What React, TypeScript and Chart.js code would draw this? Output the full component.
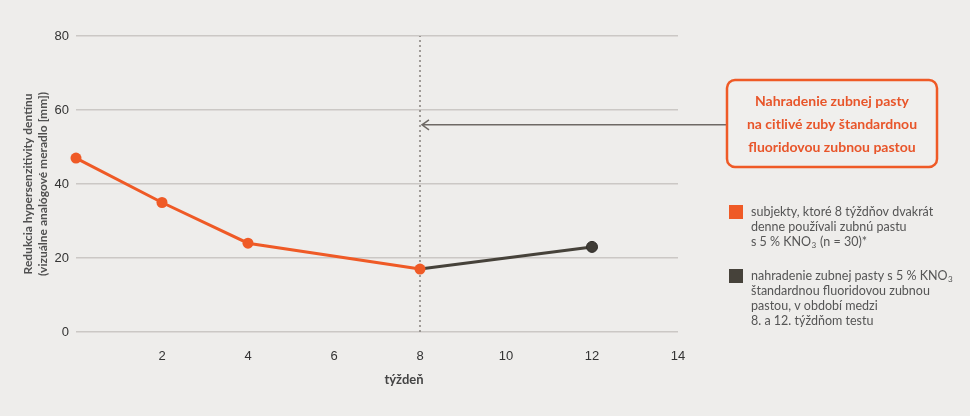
import { useEffect, useRef } from 'react';
import { Chart, registerables } from 'chart.js';

Chart.register(...registerables);

// weeks and VAS reduction (mm)
const weeksKno3 = [0, 2, 4, 8];
const reductionKno3 = [47, 35, 24, 17];
const weeksFluoride = [8, 12];
const reductionFluoride = [17, 23];
const switchWeek = 8;
const arrowLevel = 56;

const xMin = 0;
const xMax = 14;
const xStep = 2;
const yMin = 0;
const yMax = 80;
const yStep = 20;

const xTitle = 'týždeň';
const yTitle = ['Redukcia hypersenzitivity dentínu', '(vizuálne analógové meradlo [mm])'];
const boxLines = ['Nahradenie zubnej pasty', 'na citlivé zuby štandardnou', 'fluoridovou zubnou pastou'];
const legendColors = ['#ef5a26', '#46423a'];
const legendTexts = [
  ['subjekty, ktoré 8 týždňov dvakrát', 'denne používali zubnú pastu', 's 5 % KNO₃ (n = 30)*'],
  ['nahradenie zubnej pasty s 5 % KNO₃', 'štandardnou fluoridovou zubnou', 'pastou, v období medzi', '8. a 12. týždňom testu'],
];

const ORANGE = '#ef5a26';
const DARK = '#46423a';
const BG = '#eeedeb';

// draws text, rendering "₃" as a small lowered 3
function drawSub(ctx: CanvasRenderingContext2D, text: string, x: number, y: number, size: number) {
  const parts = text.split('₃');
  let cx = x;
  parts.forEach((part, i) => {
    ctx.font = `${size}px Lato`;
    ctx.fillText(part, cx, y);
    cx += ctx.measureText(part).width;
    if (i < parts.length - 1) {
      ctx.font = `${size * 0.65}px Lato`;
      ctx.fillText('3', cx + 0.5, y + 3);
      cx += ctx.measureText('3').width + 1;
    }
  });
}

const extras = {
  id: 'extras',
  afterDraw(chart: Chart) {
    const { ctx, chartArea } = chart;
    const x = chart.scales.x;
    const y = chart.scales.y;
    ctx.save();

    // y axis title
    ctx.fillStyle = '#505050';
    ctx.font = 'bold 12px Lato';
    ctx.textAlign = 'center';
    ctx.textBaseline = 'middle';
    const midY = (chartArea.top + chartArea.bottom) / 2;
    yTitle.forEach((line, i) => {
      ctx.save();
      ctx.translate(28 + i * 15, midY);
      ctx.rotate(-Math.PI / 2);
      ctx.fillText(line, 0, 0);
      ctx.restore();
    });

    // x axis title
    ctx.font = 'bold 13px Lato';
    ctx.fillStyle = '#444';
    ctx.fillText(xTitle, 404, 380);

    // arrow from box to the switch line
    const boxX = 727;
    const boxY = 80;
    const boxW = 210;
    const boxH = 87;
    const ax = x.getPixelForValue(switchWeek) + 2;
    const ay = y.getPixelForValue(arrowLevel);
    ctx.strokeStyle = '#6e6965';
    ctx.lineWidth = 1.5;
    ctx.beginPath();
    ctx.moveTo(boxX, ay);
    ctx.lineTo(ax, ay);
    ctx.moveTo(ax + 7, ay - 5);
    ctx.lineTo(ax, ay);
    ctx.lineTo(ax + 7, ay + 5);
    ctx.stroke();

    // annotation box
    ctx.beginPath();
    ctx.roundRect(boxX, boxY, boxW, boxH, 8);
    ctx.fillStyle = '#f0efed';
    ctx.fill();
    ctx.strokeStyle = ORANGE;
    ctx.lineWidth = 2.5;
    ctx.stroke();
    ctx.fillStyle = '#e8552a';
    ctx.font = 'bold 14px Lato';
    boxLines.forEach((line, i) => {
      ctx.fillText(line, boxX + boxW / 2, boxY + 21 + i * 23);
    });

    // legend
    const starts = [205, 269];
    ctx.textAlign = 'left';
    legendTexts.forEach((lines, i) => {
      ctx.fillStyle = legendColors[i];
      ctx.fillRect(729, starts[i], 14, 14);
      ctx.fillStyle = '#555';
      lines.forEach((line, j) => {
        ctx.textBaseline = 'middle';
        drawSub(ctx, line, 751, starts[i] + 7 + j * 15, 12.5);
      });
    });

    ctx.restore();
  },
};

export default function App() {
  const canvasRef = useRef<HTMLCanvasElement | null>(null);

  useEffect(() => {
    if (!canvasRef.current) return;
    const chart = new Chart(canvasRef.current, {
      type: 'line',
      data: {
        datasets: [
          {
            data: weeksKno3.map((w, i) => ({ x: w, y: reductionKno3[i] })),
            borderColor: ORANGE,
            backgroundColor: ORANGE,
            borderWidth: 3,
            pointRadius: 5.5,
            pointBorderWidth: 0,
            clip: false,
            order: 1,
          },
          {
            data: weeksFluoride.map((w, i) => ({ x: w, y: reductionFluoride[i] })),
            borderColor: DARK,
            backgroundColor: '#3f3c36',
            pointBorderColor: '#2f2c28',
            borderWidth: 3,
            pointRadius: [0, 5.5],
            pointBorderWidth: 1,
            clip: false,
            order: 2,
          },
          {
            data: [
              { x: switchWeek, y: yMin },
              { x: switchWeek, y: yMax },
            ],
            borderColor: '#86817d',
            borderWidth: 1.5,
            borderDash: [2, 3],
            pointRadius: 0,
            order: 3,
          },
        ],
      },
      options: {
        responsive: false,
        maintainAspectRatio: false,
        animation: false,
        events: [],
        layout: { padding: { top: 36, right: 292, bottom: 0, left: 0 } },
        plugins: {
          legend: { display: false },
          tooltip: { enabled: false },
        },
        scales: {
          x: {
            type: 'linear',
            min: xMin,
            max: xMax,
            border: { display: false },
            grid: { display: false, drawTicks: false },
            ticks: {
              stepSize: xStep,
              padding: 17,
              color: '#333',
              font: { family: 'Liberation Sans', size: 13 },
              callback: (v) => (v === 0 ? '' : String(v)),
            },
            afterFit: (scale) => {
              scale.height = 84;
            },
          },
          y: {
            min: yMin,
            max: yMax,
            border: { display: false },
            grid: { color: '#cbc8c5', lineWidth: 1.5, drawTicks: false },
            ticks: {
              stepSize: yStep,
              padding: 7,
              color: '#333',
              font: { family: 'Liberation Sans', size: 13 },
            },
            afterFit: (scale) => {
              scale.width = 76;
            },
          },
        },
      },
      plugins: [extras],
    });
    return () => chart.destroy();
  }, []);

  return (
    <div style={{ position: 'absolute', left: 0, top: 0, width: 970, height: 416, background: BG }}>
      <canvas ref={canvasRef} width={970} height={416} />
    </div>
  );
}
